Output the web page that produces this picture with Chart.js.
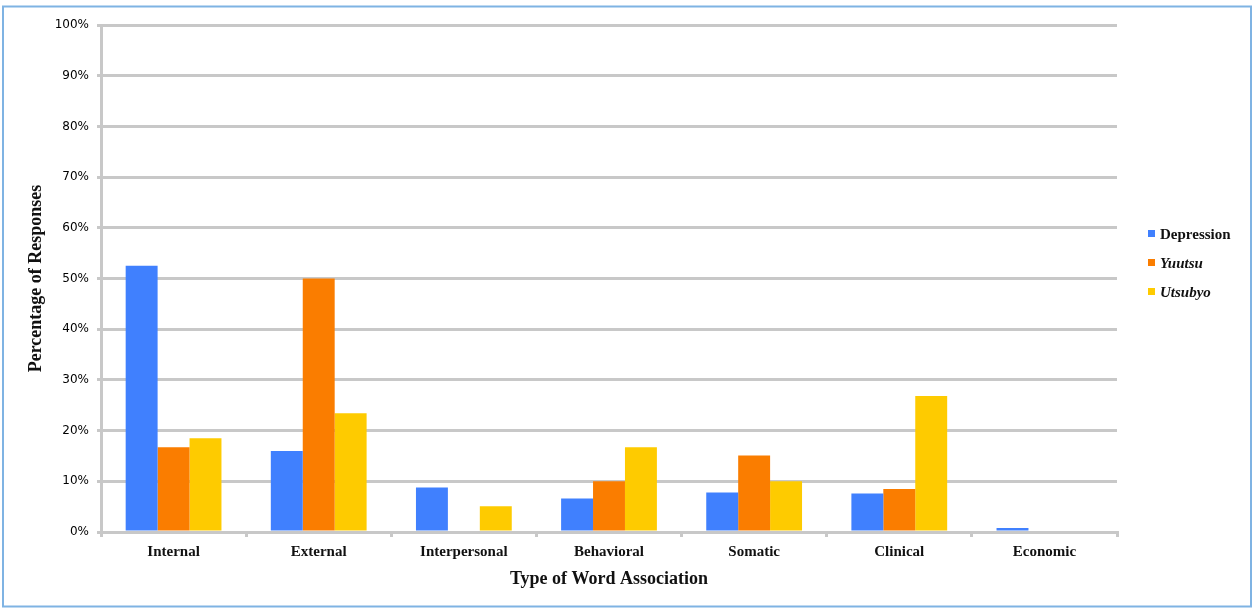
<!DOCTYPE html>
<html>
<head>
<meta charset="utf-8">
<title>Type of Word Association</title>
<script src="https://cdn.jsdelivr.net/npm/chart.js@4/dist/chart.umd.min.js"></script>
<style>
  html, body { margin: 0; padding: 0; background: #ffffff; }
  #wrap { position: relative; width: 1254px; height: 608px; }
</style>
</head>
<body>
<div id="wrap">
  <canvas id="word-association-chart" width="1254" height="608"></canvas>
</div>
<script>
// Chart data
const categories = ['Internal', 'External', 'Interpersonal', 'Behavioral', 'Somatic', 'Clinical', 'Economic'];
const depressionValues = [52.5, 16.0, 8.8, 6.6, 7.8, 7.6, 0.8];
const yuutsuValues = [16.7, 50.0, 0, 10.0, 15.1, 8.5, 0];
const utsubyoValues = [18.5, 23.4, 5.1, 16.7, 10.0, 26.8, 0];
const seriesNames = ['Depression', 'Yuutsu', 'Utsubyo'];
const seriesColors = ['#4080fe', '#fa7d00', '#fecb00'];
const italicSeries = [false, true, true];
const yTicks = [0, 10, 20, 30, 40, 50, 60, 70, 80, 90, 100];

const serif = '"Liberation Serif", "Times New Roman", serif';
const gridGrey = '#c8c8c8';

// Light blue frame round the whole picture
const framePlugin = {
  id: 'frame',
  beforeDraw(chart) {
    const ctx = chart.ctx;
    ctx.save();
    ctx.fillStyle = '#ffffff';
    ctx.fillRect(0, 0, chart.width, chart.height);
    ctx.strokeStyle = '#7fb3e3';
    ctx.lineWidth = 2;
    ctx.strokeRect(3, 6.5, 1248, 600);
    ctx.restore();
  }
};

// Legend drawn by hand so two of the names can be italic
const keyPlugin = {
  id: 'key',
  afterDraw(chart) {
    const ctx = chart.ctx;
    const left = chart.chartArea.right + 31;
    const top = 230;
    const rowGap = 29;
    ctx.save();
    chart.data.datasets.forEach((dataset, index) => {
      const y = top + index * rowGap;
      ctx.fillStyle = dataset.backgroundColor;
      ctx.fillRect(left, y, 7, 7);
      ctx.fillStyle = '#111111';
      ctx.font = (italicSeries[index] ? 'italic ' : '') + 'bold 15px ' + serif;
      ctx.textBaseline = 'middle';
      ctx.textAlign = 'left';
      ctx.fillText(dataset.label, left + 12, y + 5);
    });
    ctx.restore();
  }
};

const seriesValues = [depressionValues, yuutsuValues, utsubyoValues];

const chartData = {
  labels: categories,
  datasets: seriesNames.map((name, index) => ({
    label: name,
    data: seriesValues[index],
    backgroundColor: seriesColors[index],
    borderWidth: 0,
    barPercentage: 1.0,
    categoryPercentage: 0.66
  }))
};

const options = {
  responsive: false,
  animation: false,
  layout: {
    padding: { left: 0, top: 25, right: 137, bottom: 0 }
  },
  plugins: {
    legend: { display: false },
    tooltip: { enabled: false }
  },
  scales: {
    x: {
      grid: {
        drawOnChartArea: false,
        drawTicks: true,
        tickLength: 5,
        color: gridGrey,
        lineWidth: 3
      },
      border: { color: gridGrey, width: 3 },
      ticks: {
        color: '#111111',
        padding: 6,
        font: { family: serif, size: 15, weight: 'bold' }
      },
      title: {
        display: true,
        text: 'Type of Word Association',
        color: '#111111',
        padding: { top: 0, bottom: 18 },
        font: { family: serif, size: 18, weight: 'bold' }
      },
      afterFit(scale) { scale.height = 76; }
    },
    y: {
      min: 0,
      max: 100,
      afterBuildTicks(scale) {
        scale.ticks = yTicks.map(v => ({ value: v }));
      },
      grid: {
        color: gridGrey,
        lineWidth: 3,
        tickLength: 4
      },
      border: { color: gridGrey, width: 3 },
      ticks: {
        color: '#000000',
        padding: 8,
        font: { family: '"DejaVu Sans", sans-serif', size: 12 },
        callback: (value) => value + '%'
      },
      title: {
        display: true,
        text: 'Percentage of Responses',
        color: '#111111',
        padding: { top: 26, bottom: 0 },
        font: { family: serif, size: 18, weight: 'bold' }
      },
      afterFit(scale) { scale.width = 101; }
    }
  }
};

const ctx = document.getElementById('word-association-chart').getContext('2d');
new Chart(ctx, {
  type: 'bar',
  data: chartData,
  options: options,
  plugins: [framePlugin, keyPlugin]
});
</script>
</body>
</html>
